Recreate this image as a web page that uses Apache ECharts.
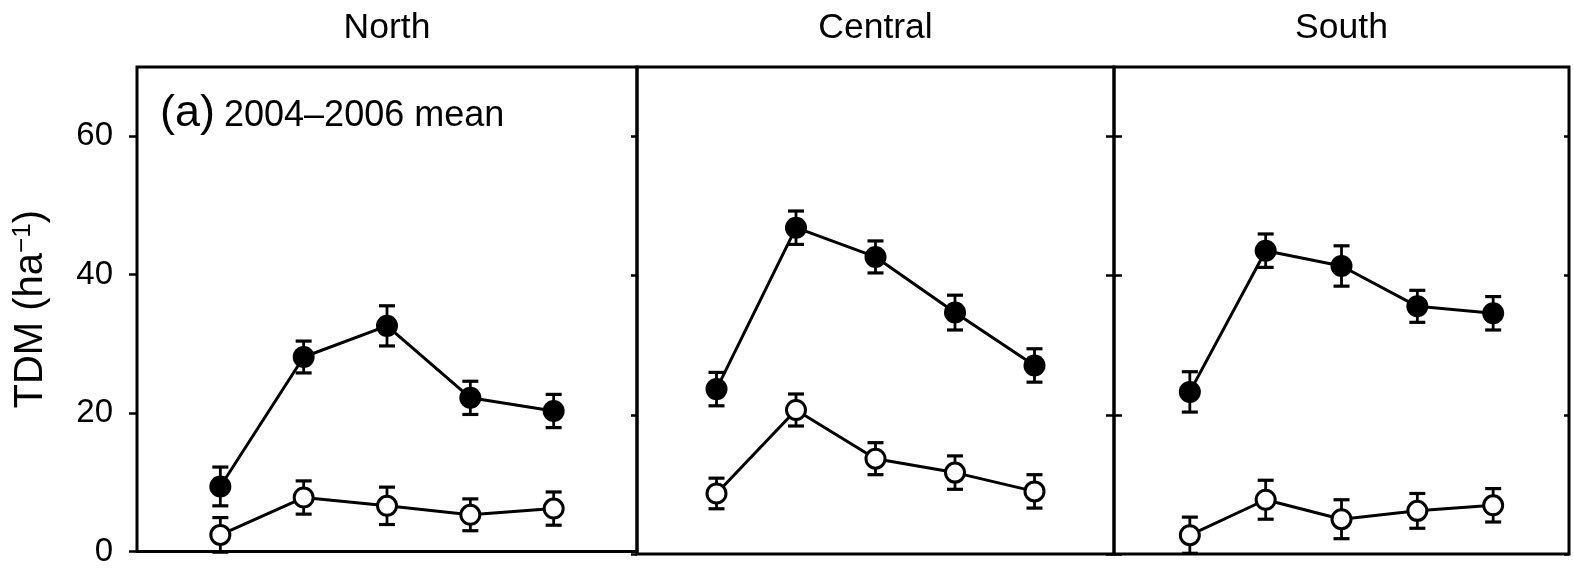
<!DOCTYPE html>
<html>
<head>
<meta charset="utf-8">
<script src="https://cdn.jsdelivr.net/npm/echarts@6/dist/echarts.min.js"></script>
<style>
  html, body { margin: 0; padding: 0; background: #fff; }
  #chart { width: 1573px; height: 568px; }
</style>
</head>
<body>
<div id="chart"></div>
<script>
// Panel titles and x positions of the five sampling points
const regions = ['North', 'Central', 'South'];
const xPos = [1, 2, 3, 4, 5];
const yTicks = [0, 20, 40, 60];

// TDM means and error half-widths, filled (●) and open (○) series per region
const northFilled = [9.4, 28.1, 32.6, 22.2, 20.3];
const northFilledErr = [2.8, 2.3, 2.9, 2.4, 2.4];
const northOpen = [2.4, 7.8, 6.6, 5.3, 6.2];
const northOpenErr = [2.5, 2.4, 2.7, 2.3, 2.4];

const centralFilled = [23.7, 46.9, 42.7, 34.7, 27.1];
const centralFilledErr = [2.4, 2.4, 2.3, 2.5, 2.4];
const centralOpen = [8.7, 20.7, 13.7, 11.7, 9.0];
const centralOpenErr = [2.2, 2.3, 2.3, 2.4, 2.4];

const southFilled = [23.3, 43.6, 41.4, 35.6, 34.6];
const southFilledErr = [2.9, 2.4, 2.9, 2.3, 2.4];
const southOpen = [2.7, 7.8, 5.0, 6.2, 7.0];
const southOpenErr = [2.6, 2.8, 2.8, 2.5, 2.4];

const panels = [
  { filled: northFilled, filledErr: northFilledErr, open: northOpen, openErr: northOpenErr },
  { filled: centralFilled, filledErr: centralFilledErr, open: centralOpen, openErr: centralOpenErr },
  { filled: southFilled, filledErr: southFilledErr, open: southOpen, openErr: southOpenErr }
];

const FONT = "'Liberation Sans', Arial, Helvetica, sans-serif";
const TOP = 67, HEIGHT = 487;
const grids = [
  { left: 137, width: 500 },
  { left: 637, width: 477 },
  { left: 1114, width: 455 }
];

const chart = echarts.init(document.getElementById('chart'), null, { renderer: 'canvas' });

function tick(length, inside) {
  return { show: true, inside: !!inside, customValues: yTicks, length, lineStyle: { color: '#000', width: 2.5 } };
}

function yAxisBase(gridIndex, extra) {
  return Object.assign({
    type: 'value', gridIndex, min: 0, max: 70,
    axisLine: { show: false },
    splitLine: { show: false },
    axisLabel: { show: false },
    axisTick: tick(8)
  }, extra || {});
}

const yAxes = [
  yAxisBase(0, {
    position: 'left',
    name: '{t|TDM (ha}{s|−1}{t|)}',
    nameLocation: 'middle',
    nameGap: 86,
    nameTextStyle: {
      rich: {
        t: { fontSize: 40, fontFamily: FONT, color: '#000' },
        s: { fontSize: 26, fontFamily: FONT, color: '#000', verticalAlign: 'top', padding: [0, 0, 15, 0] }
      }
    },
    axisLabel: { show: true, customValues: yTicks, margin: 24, fontSize: 33, fontFamily: FONT, color: '#000' }
  }),
  yAxisBase(1, { position: 'left', axisTick: tick(6) }),
  yAxisBase(2, { position: 'left', axisTick: tick(8) }),
  yAxisBase(2, { position: 'left', axisTick: tick(8, true) }),
  yAxisBase(2, { position: 'right', axisTick: tick(5, true) })
];

const xAxes = grids.map((g, i) => ({ type: 'value', gridIndex: i, min: 0, max: 6, show: false }));

// Vertical error bars with end caps
function errorBarSeries(i, means, errs) {
  return {
    type: 'custom',
    xAxisIndex: i, yAxisIndex: i,
    z: 1,
    silent: true,
    data: xPos.map((x, k) => [x, means[k] - errs[k], means[k] + errs[k]]),
    renderItem(params, api) {
      const x = api.value(0);
      const top = api.coord([x, api.value(2)]);
      const bot = api.coord([x, api.value(1)]);
      const cap = 8;
      const st = { stroke: '#000', lineWidth: 2.8 };
      const cs = { stroke: '#000', lineWidth: 3.2 };
      return {
        type: 'group',
        children: [
          { type: 'line', shape: { x1: top[0], y1: top[1], x2: bot[0], y2: bot[1] }, style: st },
          { type: 'line', shape: { x1: top[0] - cap, y1: top[1], x2: top[0] + cap, y2: top[1] }, style: cs },
          { type: 'line', shape: { x1: bot[0] - cap, y1: bot[1], x2: bot[0] + cap, y2: bot[1] }, style: cs }
        ]
      };
    }
  };
}

const series = [];
panels.forEach((p, i) => {
  series.push(errorBarSeries(i, p.filled, p.filledErr));
  series.push(errorBarSeries(i, p.open, p.openErr));
  series.push({
    type: 'line', xAxisIndex: i, yAxisIndex: i, z: 3,
    data: xPos.map((x, k) => [x, p.filled[k]]),
    symbol: 'circle', symbolSize: 22, showAllSymbol: true,
    lineStyle: { color: '#000', width: 3 },
    itemStyle: { color: '#000', borderColor: '#000', borderWidth: 0 },
    silent: true, animation: false
  });
  series.push({
    type: 'line', xAxisIndex: i, yAxisIndex: i, z: 3,
    data: xPos.map((x, k) => [x, p.open[k]]),
    symbol: 'circle', symbolSize: 19, showAllSymbol: true,
    lineStyle: { color: '#000', width: 3 },
    itemStyle: { color: '#fff', borderColor: '#000', borderWidth: 3 },
    silent: true, animation: false
  });
});

const option = {
  animation: false,
  backgroundColor: '#fff',
  title: regions.map((r, i) => ({
    text: r,
    left: grids[i].left + grids[i].width / 2,
    top: 10,
    textAlign: 'center',
    padding: 0,
    textStyle: { fontSize: 35.5, fontWeight: 'normal', fontFamily: FONT, color: '#000' }
  })),
  grid: grids.map(g => ({
    left: g.left, width: g.width, top: TOP, height: HEIGHT,
    show: true, borderColor: '#000', borderWidth: 3, backgroundColor: 'transparent'
  })),
  xAxis: xAxes,
  yAxis: yAxes,
  graphic: [
    {
      type: 'text', left: 160, top: 91, silent: true,
      style: { text: '(a)', fontSize: 45, fontFamily: FONT, fill: '#000' }
    },
    {
      type: 'text', left: 224, top: 98, silent: true,
      style: { text: '2004–2006 mean', fontSize: 36, fontFamily: FONT, fill: '#000' }
    }
  ],
  series
};

chart.setOption(option);
</script>
</body>
</html>
